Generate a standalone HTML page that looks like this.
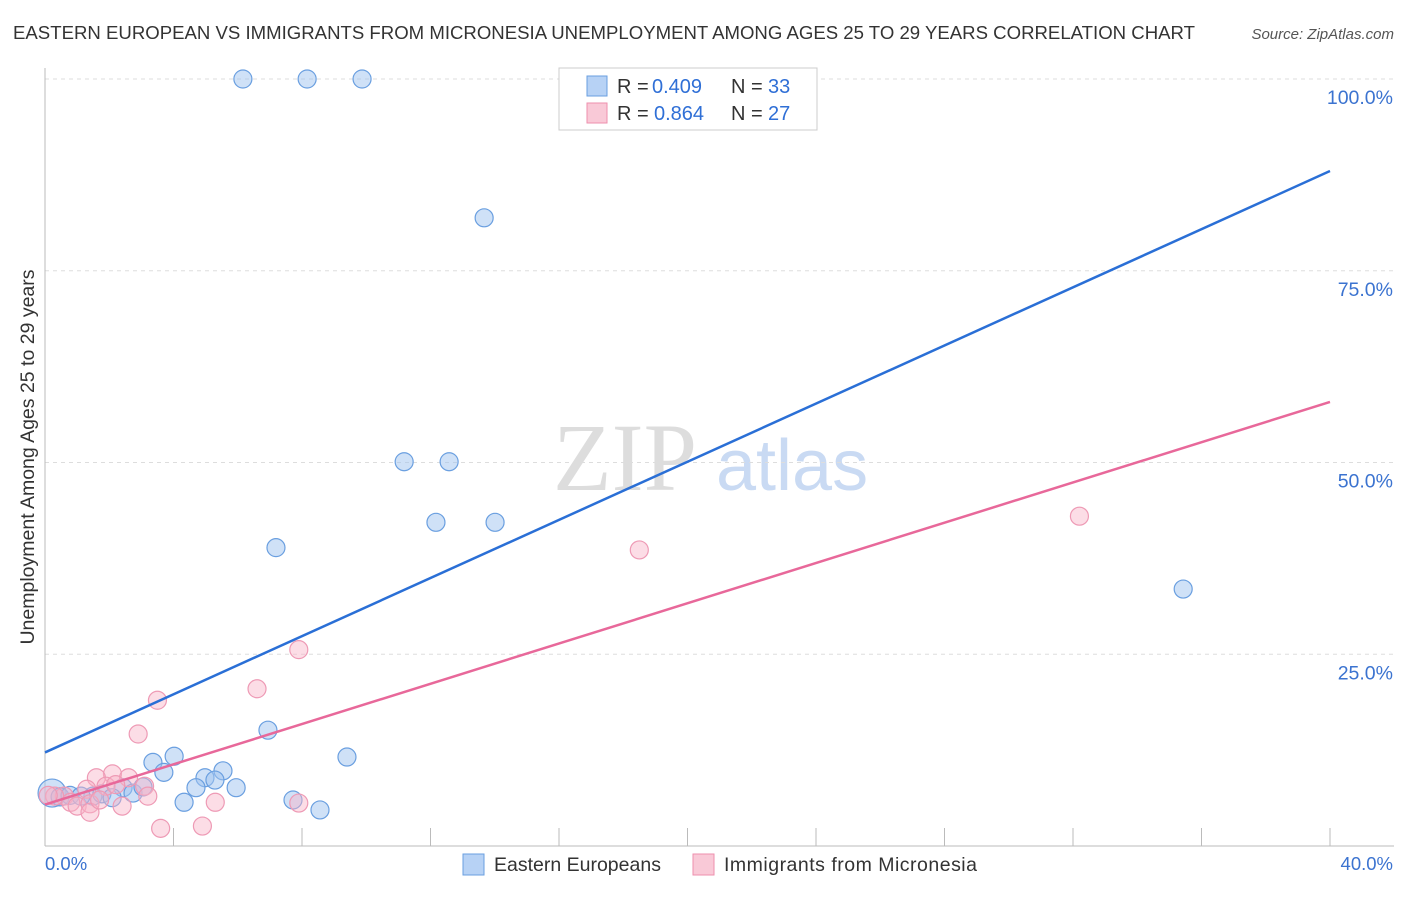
<!DOCTYPE html>
<html><head><meta charset="utf-8"><style>
body{margin:0;background:#fff;font-family:"Liberation Sans",sans-serif}
</style></head><body>
<svg id="c" width="1406" height="892" xmlns="http://www.w3.org/2000/svg">
<text x="13" y="39" font-size="18.6" fill="#333">EASTERN EUROPEAN VS IMMIGRANTS FROM MICRONESIA UNEMPLOYMENT AMONG AGES 25 TO 29 YEARS CORRELATION CHART</text>
<text x="1394" y="39" font-size="15" fill="#555" text-anchor="end" font-style="italic">Source: ZipAtlas.com</text>
<text x="34" y="457" font-size="19.5" fill="#333" text-anchor="middle" transform="rotate(-90 34 457)">Unemployment Among Ages 25 to 29 years</text>
<g><text x="553" y="490" font-size="96" fill="#ddd" font-family="Liberation Serif,serif">ZIP</text><text x="716" y="490" font-size="72" fill="#c9daf3">atlas</text></g>
<g id="grid"></g><g id="marks"></g>
<g>
<rect x="559" y="68" width="258" height="62" fill="#fff" stroke="#ccc"/>
<rect x="587" y="76" width="20" height="20" fill="#b7d2f5" stroke="#6a9fe0"/>
<text x="617" y="93" font-size="20" fill="#333">R =</text><text x="652" y="93" font-size="20" fill="#2f6fd6">0.409</text>
<text x="731" y="93" font-size="20" fill="#333">N =</text><text x="768" y="93" font-size="20" fill="#2f6fd6">33</text>
<rect x="587" y="103" width="20" height="20" fill="#f9c9d7" stroke="#ee8fae"/>
<text x="617" y="120" font-size="20" fill="#333">R =</text><text x="654" y="120" font-size="20" fill="#2f6fd6">0.864</text>
<text x="731" y="120" font-size="20" fill="#333">N =</text><text x="768" y="120" font-size="20" fill="#2f6fd6">27</text>
</g>
<g>
<rect x="463" y="854" width="21" height="21" fill="#b7d2f5" stroke="#6a9fe0"/>
<text x="494" y="871" font-size="19.5" fill="#333">Eastern Europeans</text>
<rect x="693" y="854" width="21" height="21" fill="#f9c9d7" stroke="#ee8fae"/>
<text x="724" y="871" font-size="19.5" fill="#333" textLength="253">Immigrants from Micronesia</text>
</g>
<text x="45" y="870" font-size="18.5" fill="#3b73d0">0.0%</text>
<text x="1393" y="870" font-size="18.5" fill="#3b73d0" text-anchor="end">40.0%</text>
</svg>
<script>
const yTicks=[100,75,50,25];
const yTickLabels=["100.0%","75.0%","50.0%","25.0%"];
const blueX=[6.16,8.16,9.87,13.67,11.18,12.58,12.17,14.01,7.19,35.43,6.94,9.40,4.02,3.36,3.70,5.54,4.98,5.29,5.95,4.70,4.33,7.72,8.56,0.22,0.47,0.78,1.49,1.77,2.43,2.74,3.05,1.12,2.09];
const blueY=[100,100,100,81.9,50.1,50.1,42.2,42.2,38.9,33.5,15.1,11.6,11.7,10.9,9.6,9.8,8.9,8.6,7.6,7.6,5.7,6.0,4.7,6.9,6.4,6.6,6.5,6.8,7.6,6.9,7.7,6.5,6.3];
const pinkX=[32.2,18.5,7.9,6.6,3.5,2.9,2.1,1.6,2.6,1.3,1.9,3.1,2.2,0.6,0.3,0.8,1.0,1.4,2.4,3.2,5.3,7.9,1.4,3.6,4.9,0.1,1.7];
const pinkY=[43.0,38.6,25.6,20.5,19.0,14.6,9.4,8.9,8.9,7.4,7.8,7.8,8.0,6.5,6.5,5.7,5.2,5.5,5.2,6.5,5.7,5.6,4.4,2.3,2.6,6.6,6.0];
const blueLine=[12.2,88.0];
const pinkLine=[5.4,57.9];
const xs=v=>45+v/40*1285, ys=v=>846-v*7.67;
const NS="http://www.w3.org/2000/svg";
const g=document.getElementById('grid'), m=document.getElementById('marks');
function el(p,t,a){const e=document.createElementNS(NS,t);for(const k in a)e.setAttribute(k,a[k]);p.appendChild(e);return e;}
yTicks.forEach((t,i)=>{
 const l=el(g,'line',{x1:45,x2:1394,y1:ys(t),y2:ys(t),stroke:'#ddd','stroke-dasharray':'4,4'});
 
 
 const tx=el(g,'text',{x:1393,y:ys(t)+25,'font-size':19.5,fill:'#3b73d0','text-anchor':'end'});tx.textContent=yTickLabels[i];
 
 
});
for(let i=1;i<=10;i++){const l=el(g,'line',{x1:xs(i*4),x2:xs(i*4),y1:828,y2:846,stroke:'#bbb'});
 
 }
el(g,'line',{x1:45,x2:45,y1:68,y2:846,stroke:'#bbb'});
el(g,'line',{x1:45,x2:1394,y1:846,y2:846,stroke:'#bbb'});
blueX.forEach((x,i)=>{const c=el(m,'circle',{cx:xs(x),cy:ys(blueY[i]),r:i==23?14:9,fill:'rgba(160,195,240,0.5)',stroke:'#6a9fe0','stroke-width':1.2});
 
 });
pinkX.forEach((x,i)=>{const c=el(m,'circle',{cx:xs(x),cy:ys(pinkY[i]),r:9,fill:'rgba(248,180,200,0.45)',stroke:'#ee9ab5','stroke-width':1.2});
 
 });
const bl=el(m,'line',{x1:xs(0),y1:ys(blueLine[0]),x2:xs(40),y2:ys(blueLine[1]),stroke:'#2a6fd6','stroke-width':2.5});


const pl=el(m,'line',{x1:xs(0),y1:ys(pinkLine[0]),x2:xs(40),y2:ys(pinkLine[1]),stroke:'#e8689a','stroke-width':2.5});


</script>
</body></html>
